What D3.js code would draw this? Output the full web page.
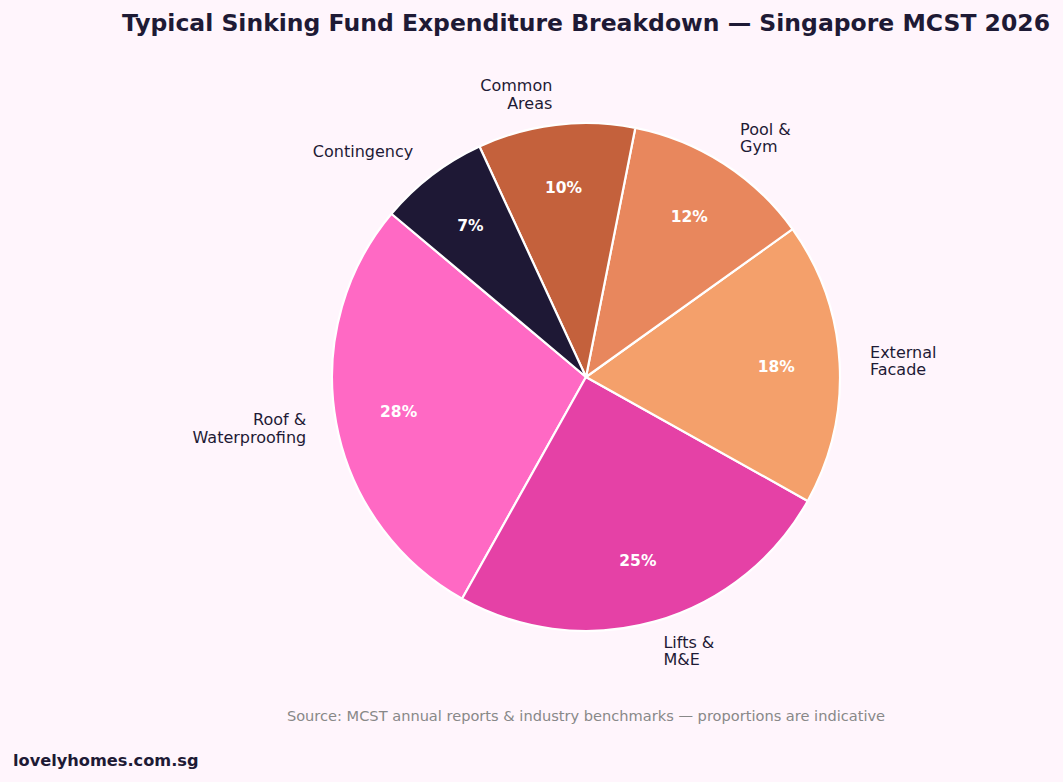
<!DOCTYPE html>
<html>
<head>
<meta charset="utf-8">
<script src="https://cdn.jsdelivr.net/npm/d3@7"></script>
<style>
  body { margin: 0; background: #fff5fc; }
  svg { display: block; font-family: "DejaVu Sans", sans-serif; }
</style>
</head>
<body>
<div id="chart"></div>
<script>
var categories = ["Roof &\nWaterproofing", "Lifts &\nM&E", "External\nFacade", "Pool &\nGym", "Common\nAreas", "Contingency"];
var shares = [28, 25, 18, 12, 10, 7];
var colours = ["#ff69c4", "#e541a6", "#f4a06b", "#e8875d", "#c4613c", "#1e1835"];

var width = 1063, height = 782;
var cx = 586, cy = 377, radius = 254;

var svg = d3.select("#chart").append("svg")
	.attr("width", width)
	.attr("height", height);

svg.append("rect")
	.attr("width", width)
	.attr("height", height)
	.attr("fill", "#fff5fc");

// matplotlib style: start at 140deg, go counter-clockwise
// d3 angles are clockwise from 12 o'clock, so flip
var startDeg = 140;
var pie = d3.pie()
	.sort(null)
	.startAngle((90 - startDeg) * Math.PI / 180)
	.endAngle((90 - startDeg - 360) * Math.PI / 180);

var arcs = pie(shares);

var arc = d3.arc().innerRadius(0).outerRadius(radius);

var g = svg.append("g").attr("transform", "translate(" + cx + "," + cy + ")");

g.selectAll("path")
	.data(arcs)
	.enter().append("path")
		.attr("d", arc)
		.attr("fill", function(d, i) { return colours[i]; })
		.attr("stroke", "#ffffff")
		.attr("stroke-width", 2.2)
		.attr("stroke-linejoin", "round");

function midPoint(d, r) {
	var a = (d.startAngle + d.endAngle) / 2;
	return [Math.sin(a) * r, -Math.cos(a) * r];
}

// percentage labels
g.selectAll("text.pct")
	.data(arcs)
	.enter().append("text")
		.attr("class", "pct")
		.attr("x", function(d) { return midPoint(d, radius * 0.75)[0]; })
		.attr("y", function(d) { return midPoint(d, radius * 0.75)[1]; })
		.attr("text-anchor", "middle")
		.attr("dy", "0.35em")
		.attr("font-size", 15.5)
		.attr("font-weight", "bold")
		.attr("fill", "#ffffff")
		.text(function(d) { return d.data + "%"; });

// category labels
var lineH = 17.5;
var labels = g.selectAll("text.lbl")
	.data(arcs)
	.enter().append("text")
		.attr("class", "lbl")
		.attr("font-size", 16)
		.attr("fill", "#1e1a35")
		.attr("text-anchor", function(d) { return midPoint(d, 1)[0] > 0 ? "start" : "end"; })
		.attr("transform", function(d) {
			var p = midPoint(d, radius * 1.12);
			return "translate(" + p[0] + "," + p[1] + ")";
		});

labels.each(function(d, i) {
	var lines = categories[i].split("\n");
	var t = d3.select(this);
	var y0 = -(lines.length - 1) * lineH / 2;
	lines.forEach(function(s, k) {
		t.append("tspan")
			.attr("x", 0)
			.attr("y", y0 + k * lineH)
			.attr("dy", "0.35em")
			.text(s);
	});
});

svg.append("text")
	.attr("x", cx)
	.attr("y", 31)
	.attr("text-anchor", "middle")
	.attr("font-size", 23.5)
	.attr("font-weight", "bold")
	.attr("fill", "#1e1a35")
	.text("Typical Sinking Fund Expenditure Breakdown \u2014 Singapore MCST 2026");

svg.append("text")
	.attr("x", cx)
	.attr("y", 721)
	.attr("text-anchor", "middle")
	.attr("font-size", 14.6)
	.attr("fill", "#888888")
	.text("Source: MCST annual reports & industry benchmarks \u2014 proportions are indicative");

svg.append("text")
	.attr("x", 13)
	.attr("y", 766)
	.attr("font-size", 16.2)
	.attr("font-weight", "bold")
	.attr("fill", "#1e1a35")
	.text("lovelyhomes.com.sg");
</script>
</body>
</html>
